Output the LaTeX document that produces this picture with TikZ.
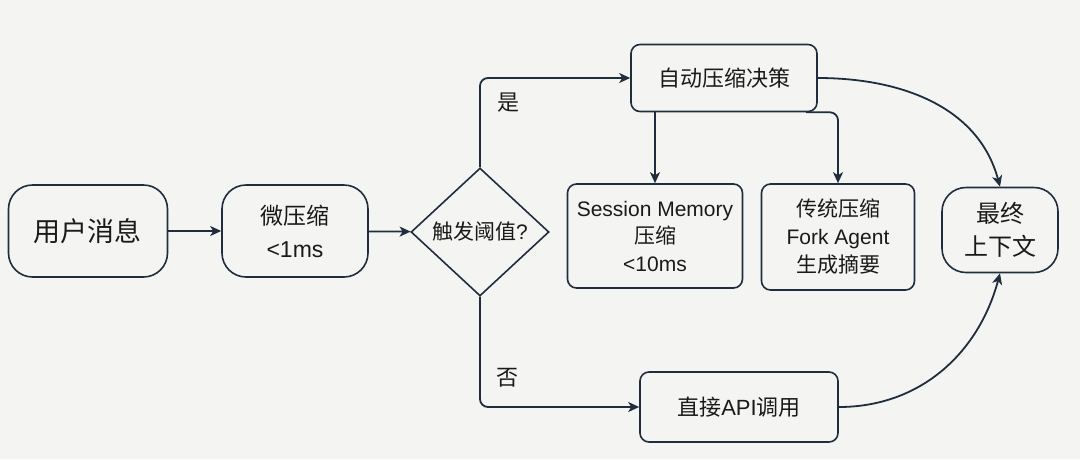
\documentclass[tikz,border=0pt]{standalone}
\usepackage{fontspec}
\setmainfont{Noto Sans CJK SC}
\newfontfamily\lat{Liberation Sans}
\usetikzlibrary{shapes.geometric,arrows.meta}
\definecolor{ink}{HTML}{1F2D3D}
\definecolor{paper}{HTML}{F4F5F3}
\definecolor{txt}{HTML}{1A1A1A}
\begin{document}
\begin{tikzpicture}[x=1pt,y=1pt,
    pill/.style={draw=ink, line width=1.6pt, rounded corners=24pt, align=center, inner sep=0pt, text=txt},
    box/.style={draw=ink, line width=1.6pt, rounded corners=9pt, align=center, inner sep=0pt, text=txt},
    arr/.style={draw=ink, line width=1.8pt, -{Stealth[length=11pt,width=10pt,inset=3pt]}}]
    %background
    \fill[paper] (0,0) rectangle (1080,-459);
    \useasboundingbox (0,0) rectangle (1080,-459);
    %nodes
    \node[pill, minimum width=159pt, minimum height=92pt, font=\fontsize{27}{32}\selectfont] (user) at (88,-231) {用户消息};
    \node[pill, minimum width=146pt, minimum height=92pt, font=\fontsize{23}{33}\selectfont] (micro) at (295,-231) {微压缩\\{\lat <1ms}};
    \node[draw=ink, line width=1.6pt, diamond, inner sep=0pt, minimum width=138pt, minimum height=128pt, text=txt, font=\fontsize{21}{26}\selectfont] (dec) at (480,-232) {触发阈值{\lat ?}};
    \node[box, minimum width=186pt, minimum height=67pt, font=\fontsize{22}{28}\selectfont] (auto) at (724,-78) {自动压缩决策};
    \node[box, minimum width=175pt, minimum height=104pt, font=\fontsize{21}{27.5}\selectfont] (sm) at (655,-236) {{\lat Session Memory}\\压缩\\{\lat <10ms}};
    \node[box, minimum width=153pt, minimum height=106pt, font=\fontsize{21}{28}\selectfont] (trad) at (838,-237) {传统压缩\\{\lat Fork Agent}\\生成摘要};
    \node[pill, minimum width=116pt, minimum height=85pt, font=\fontsize{24}{33}\selectfont] (final) at (1000,-230) {最终\\上下文};
    \node[box, minimum width=198pt, minimum height=70pt, font=\fontsize{22}{28}\selectfont] (api) at (739,-407) {直接{\lat API}调用};
    %arrows
    \draw[arr] (user) -- (micro);
    \draw[arr] (micro) -- (dec);
    \draw[arr, rounded corners=8pt] (dec.north) |- (auto.west);
    \draw[arr, rounded corners=8pt] (dec.south) |- (api.west);
    \node[text=txt, font=\fontsize{22}{26}\selectfont] (yes) at (508,-103) {是};
    \node[text=txt, font=\fontsize{22}{26}\selectfont] (no) at (507,-378) {否};
    \draw[arr] (auto.south -| sm.north) -- (sm.north);
    \draw[arr, rounded corners=8pt] ([xshift=-12pt]auto.south east) -| (trad.north);
    \draw[arr] (auto.east) to[out=0, in=105] (final.north);
    \draw[arr] (api.east) to[out=0, in=-105] (final.south);
\end{tikzpicture}
\end{document}
